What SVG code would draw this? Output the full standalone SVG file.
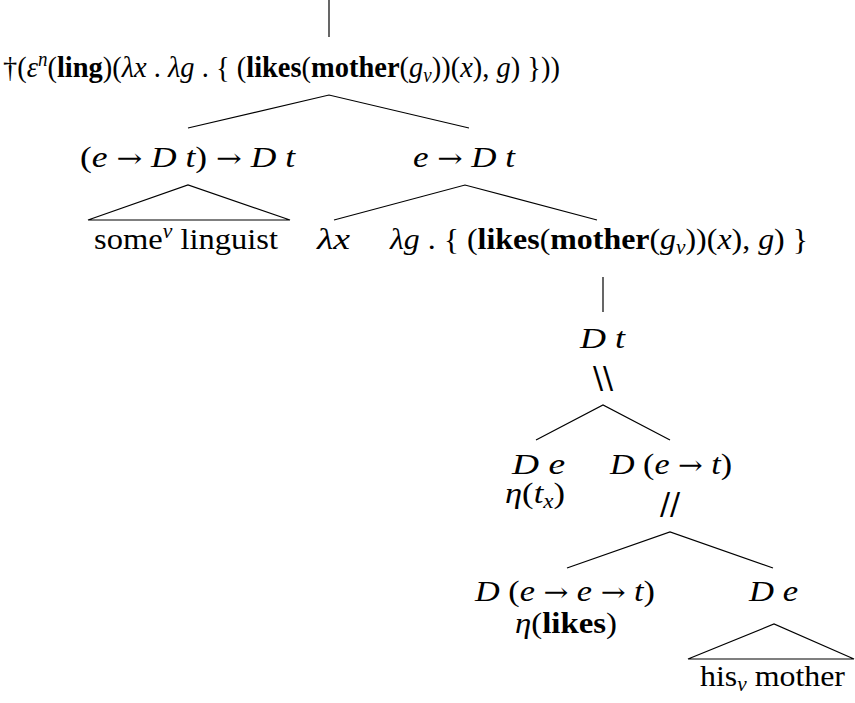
<svg xmlns="http://www.w3.org/2000/svg" width="855" height="703" viewBox="0 0 855 703">
<style>
.t { font-family: "Liberation Serif", "DejaVu Serif", serif; font-size: 30px; fill: #000; }
.i { font-style: italic; }
.b { font-weight: bold; }
.sm { font-size: 20px; }
.ar { font-family: "DejaVu Serif", serif; font-size: 26px; font-style: normal; }
.sl { font-family: "DejaVu Sans", sans-serif; font-size: 30px; }
.c line, .c polyline, .c polygon { stroke: #000; stroke-width: 1.2; fill: none; }
</style>
<rect width="855" height="703" fill="#fff"/>
<g id="connectors" class="c">
  <line x1="329" y1="0" x2="329" y2="37"/>
  <polyline points="188,128 329,95 469,128"/>
  <polygon points="88,220 188,185 290,220"/>
  <polyline points="334,220 465,185 597,220"/>
  <line x1="603" y1="277" x2="603" y2="312"/>
  <polyline points="536,440 603,405 670,440"/>
  <polyline points="567,568 670,532 773,568"/>
  <polygon points="688,659 774,624 854,659"/>
</g>
<g id="root">
  <text class="t" x="3" y="77" textLength="557" lengthAdjust="spacingAndGlyphs">†(<tspan class="i">ε</tspan><tspan class="i sm" dy="-11">n</tspan><tspan dy="11">(</tspan><tspan class="b">ling</tspan>)(<tspan class="i">λx</tspan> . <tspan class="i">λg</tspan> . { (<tspan class="b">likes</tspan>(<tspan class="b">mother</tspan>(<tspan class="i">g</tspan><tspan class="i sm" dy="5">v</tspan><tspan dy="-5">))(</tspan><tspan class="i">x</tspan>), <tspan class="i">g</tspan>) }))</text>
</g>
<g id="quantifier">
  <text class="t" x="80" y="167" textLength="215" lengthAdjust="spacingAndGlyphs">(<tspan class="i">e</tspan> <tspan class="ar">→</tspan> <tspan class="i">D t</tspan>) <tspan class="ar">→</tspan> <tspan class="i">D t</tspan></text>
</g>
<g id="scope">
  <text class="t" x="413" y="167" textLength="102" lengthAdjust="spacingAndGlyphs"><tspan class="i">e</tspan> <tspan class="ar">→</tspan> <tspan class="i">D t</tspan></text>
</g>
<g id="some-linguist">
  <text class="t" x="94" y="249" textLength="184" lengthAdjust="spacingAndGlyphs">some<tspan class="i sm" dy="-11">v</tspan><tspan dy="11"> linguist</tspan></text>
</g>
<g id="lambda-x">
  <text class="t i" x="317" y="249" textLength="33" lengthAdjust="spacingAndGlyphs">λx</text>
</g>
<g id="lambda-g">
  <text class="t" x="390" y="249" textLength="418" lengthAdjust="spacingAndGlyphs"><tspan class="i">λg</tspan> . { (<tspan class="b">likes</tspan>(<tspan class="b">mother</tspan>(<tspan class="i">g</tspan><tspan class="i sm" dy="5">v</tspan><tspan dy="-5">))(</tspan><tspan class="i">x</tspan>), <tspan class="i">g</tspan>) }</text>
</g>
<g id="Dt">
  <text class="t i" x="580" y="348" textLength="45" lengthAdjust="spacingAndGlyphs">D t</text>
  <text class="t sl" x="603" y="388" text-anchor="middle">\\</text>
</g>
<g id="De-eta">
  <text class="t i" x="512" y="474" textLength="53" lengthAdjust="spacingAndGlyphs">D e</text>
  <text class="t" x="505" y="503" textLength="60" lengthAdjust="spacingAndGlyphs"><tspan class="i">η</tspan>(<tspan class="i">t</tspan><tspan class="i sm" dy="5">x</tspan><tspan dy="-5">)</tspan></text>
</g>
<g id="D-e-t">
  <text class="t" x="610" y="474" textLength="122" lengthAdjust="spacingAndGlyphs"><tspan class="i">D</tspan> (<tspan class="i">e</tspan> <tspan class="ar">→</tspan> <tspan class="i">t</tspan>)</text>
  <text class="t sl" x="670" y="514" text-anchor="middle">//</text>
</g>
<g id="D-e-e-t">
  <text class="t" x="475" y="601" textLength="180" lengthAdjust="spacingAndGlyphs"><tspan class="i">D</tspan> (<tspan class="i">e</tspan> <tspan class="ar">→</tspan> <tspan class="i">e</tspan> <tspan class="ar">→</tspan> <tspan class="i">t</tspan>)</text>
  <text class="t" x="515" y="633" textLength="102" lengthAdjust="spacingAndGlyphs"><tspan class="i">η</tspan>(<tspan class="b">likes</tspan>)</text>
</g>
<g id="De-his">
  <text class="t i" x="749" y="601" textLength="49" lengthAdjust="spacingAndGlyphs">D e</text>
</g>
<g id="his-mother">
  <text class="t" x="700" y="686" textLength="145" lengthAdjust="spacingAndGlyphs">his<tspan class="i sm" dy="5">v</tspan><tspan dy="-5"> mother</tspan></text>
</g>
</svg>
